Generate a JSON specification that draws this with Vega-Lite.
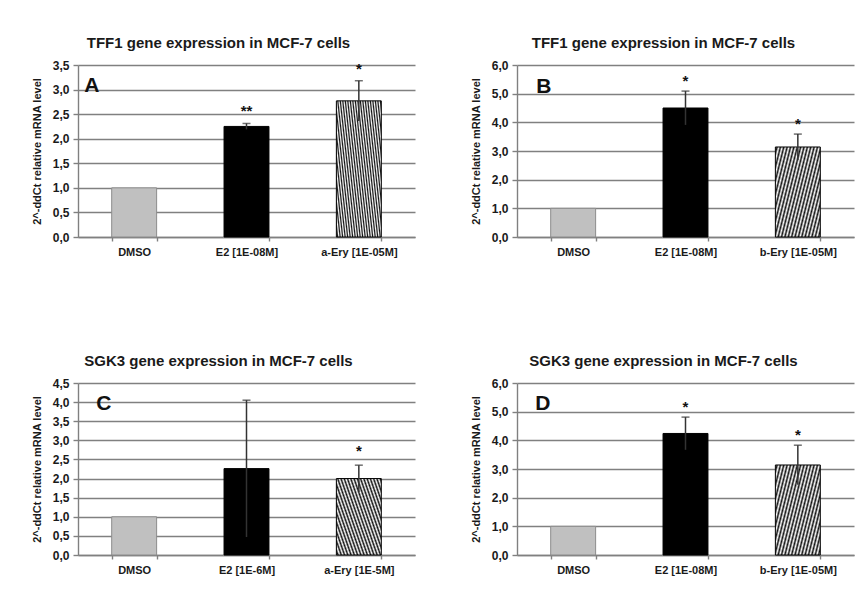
{
"$schema": "https://vega.github.io/schema/vega-lite/v6.json",
"padding": {"left": 31, "top": 36, "right": 5, "bottom": 5},
"background": "white",
"datasets": {"d": [
{"panel": "A", "cond": "DMSO", "grp": "DMSO", "mean": 1.0, "lo": null, "hi": null, "star": null},
{"panel": "A", "cond": "E2 [1E-08M]", "grp": "E2", "mean": 2.25, "lo": 2.19, "hi": 2.31, "star": "**"},
{"panel": "A", "cond": "a-Ery [1E-05M]", "grp": "Ery", "mean": 2.77, "lo": 2.36, "hi": 3.18, "star": "*"},
{"panel": "B", "cond": "DMSO", "grp": "DMSO", "mean": 1.0, "lo": null, "hi": null, "star": null},
{"panel": "B", "cond": "E2 [1E-08M]", "grp": "E2", "mean": 4.5, "lo": 3.91, "hi": 5.09, "star": "*"},
{"panel": "B", "cond": "b-Ery [1E-05M]", "grp": "Ery", "mean": 3.14, "lo": 2.69, "hi": 3.59, "star": "*"},
{"panel": "C", "cond": "DMSO", "grp": "DMSO", "mean": 1.0, "lo": null, "hi": null, "star": null},
{"panel": "C", "cond": "E2 [1E-6M]", "grp": "E2", "mean": 2.26, "lo": 0.47, "hi": 4.05, "star": null},
{"panel": "C", "cond": "a-Ery [1E-5M]", "grp": "Ery", "mean": 2.0, "lo": 1.65, "hi": 2.35, "star": "*"},
{"panel": "D", "cond": "DMSO", "grp": "DMSO", "mean": 1.0, "lo": null, "hi": null, "star": null},
{"panel": "D", "cond": "E2 [1E-08M]", "grp": "E2", "mean": 4.24, "lo": 3.67, "hi": 4.81, "star": "*"},
{"panel": "D", "cond": "b-Ery [1E-05M]", "grp": "Ery", "mean": 3.14, "lo": 2.45, "hi": 3.83, "star": "*"}
]},
"columns": 2,
"spacing": {"row": 146, "column": 102},
"bounds": "flush",
"concat": [
{
 "width": 337, "height": 172,
 "title": {"text": "TFF1 gene expression in MCF-7 cells", "dx": -28},
 "data": {"name": "d"},
 "transform": [{"filter": "datum.panel === 'A'"}],
 "encoding": {"x": {"field": "cond", "type": "nominal", "sort": null, "scale": {"paddingInner": 0.6, "paddingOuter": 0.3}, "axis": {"title": null}}},
 "layer": [
  {"mark": {"type": "bar", "strokeWidth": 1},
   "encoding": {
    "y": {"field": "mean", "type": "quantitative", "scale": {"domain": [0, 3.5]}, "axis": {"values": [0, 0.5, 1, 1.5, 2, 2.5, 3, 3.5], "format": ".1f", "title": "2^-ddCt relative mRNA level"}},
    "fill": {"condition": [{"test": "datum.grp === 'DMSO'", "value": "#c0c0c0"}, {"test": "datum.grp === 'E2'", "value": "#000000"}],
     "value": {"gradient": "linear", "x1": 0, "y1": 1, "x2": 2.01, "y2": 0.335, "stops": [{"offset":0,"color":"#fff"},{"offset":0.0125,"color":"#111"},{"offset":0.025,"color":"#fff"},{"offset":0.0375,"color":"#111"},{"offset":0.05,"color":"#fff"},{"offset":0.0625,"color":"#111"},{"offset":0.075,"color":"#fff"},{"offset":0.0875,"color":"#111"},{"offset":0.1,"color":"#fff"},{"offset":0.1125,"color":"#111"},{"offset":0.125,"color":"#fff"},{"offset":0.1375,"color":"#111"},{"offset":0.15,"color":"#fff"},{"offset":0.1625,"color":"#111"},{"offset":0.175,"color":"#fff"},{"offset":0.1875,"color":"#111"},{"offset":0.2,"color":"#fff"},{"offset":0.2125,"color":"#111"},{"offset":0.225,"color":"#fff"},{"offset":0.2375,"color":"#111"},{"offset":0.25,"color":"#fff"},{"offset":0.2625,"color":"#111"},{"offset":0.275,"color":"#fff"},{"offset":0.2875,"color":"#111"},{"offset":0.3,"color":"#fff"},{"offset":0.3125,"color":"#111"},{"offset":0.325,"color":"#fff"},{"offset":0.3375,"color":"#111"},{"offset":0.35,"color":"#fff"},{"offset":0.3625,"color":"#111"},{"offset":0.375,"color":"#fff"},{"offset":0.3875,"color":"#111"},{"offset":0.4,"color":"#fff"},{"offset":0.4125,"color":"#111"},{"offset":0.425,"color":"#fff"},{"offset":0.4375,"color":"#111"},{"offset":0.45,"color":"#fff"},{"offset":0.4625,"color":"#111"},{"offset":0.475,"color":"#fff"},{"offset":0.4875,"color":"#111"},{"offset":0.5,"color":"#fff"},{"offset":0.5125,"color":"#111"},{"offset":0.525,"color":"#fff"},{"offset":0.5375,"color":"#111"},{"offset":0.55,"color":"#fff"},{"offset":0.5625,"color":"#111"},{"offset":0.575,"color":"#fff"},{"offset":0.5875,"color":"#111"},{"offset":0.6,"color":"#fff"},{"offset":0.6125,"color":"#111"},{"offset":0.625,"color":"#fff"},{"offset":0.6375,"color":"#111"},{"offset":0.65,"color":"#fff"},{"offset":0.6625,"color":"#111"},{"offset":0.675,"color":"#fff"},{"offset":0.6875,"color":"#111"},{"offset":0.7,"color":"#fff"},{"offset":0.7125,"color":"#111"},{"offset":0.725,"color":"#fff"},{"offset":0.7375,"color":"#111"},{"offset":0.75,"color":"#fff"},{"offset":0.7625,"color":"#111"},{"offset":0.775,"color":"#fff"},{"offset":0.7875,"color":"#111"},{"offset":0.8,"color":"#fff"},{"offset":0.8125,"color":"#111"},{"offset":0.825,"color":"#fff"},{"offset":0.8375,"color":"#111"},{"offset":0.85,"color":"#fff"},{"offset":0.8625,"color":"#111"},{"offset":0.875,"color":"#fff"},{"offset":0.8875,"color":"#111"},{"offset":0.9,"color":"#fff"},{"offset":0.9125,"color":"#111"},{"offset":0.925,"color":"#fff"},{"offset":0.9375,"color":"#111"},{"offset":0.95,"color":"#fff"},{"offset":0.9625,"color":"#111"},{"offset":0.975,"color":"#fff"},{"offset":0.9875,"color":"#111"},{"offset":1,"color":"#fff"}]}},
    "stroke": {"condition": {"test": "datum.grp === 'DMSO'", "value": "#8c8c8c"}, "value": "#000000"}
   }},
  {"transform": [{"filter": "datum.hi != null"}], "mark": {"type": "rule", "color": "#333333", "strokeWidth": 1.5},
   "encoding": {"y": {"field": "lo", "type": "quantitative", "axis": {"values": [0, 0.5, 1, 1.5, 2, 2.5, 3, 3.5], "format": ".1f", "title": "2^-ddCt relative mRNA level"}}, "y2": {"field": "hi"}}},
  {"transform": [{"filter": "datum.hi != null"}], "mark": {"type": "tick", "color": "#333333", "size": 8, "thickness": 1.5},
   "encoding": {"y": {"field": "hi", "type": "quantitative", "axis": {"values": [0, 0.5, 1, 1.5, 2, 2.5, 3, 3.5], "format": ".1f", "title": "2^-ddCt relative mRNA level"}}}},
  {"transform": [{"filter": "datum.star != null"}], "mark": {"type": "text", "dy": -12, "fontSize": 15, "fontWeight": "bold", "baseline": "middle", "color": "#111"},
   "encoding": {"y": {"field": "hi", "type": "quantitative", "axis": {"values": [0, 0.5, 1, 1.5, 2, 2.5, 3, 3.5], "format": ".1f", "title": "2^-ddCt relative mRNA level"}}, "text": {"field": "star"}}},
  {"data": {"values": [{"letter": "A"}]}, "mark": {"type": "text", "align": "left", "baseline": "alphabetic", "dx": -50, "dy": 27, "fontSize": 21, "fontWeight": "bold", "color": "#111"},
   "encoding": {"x": {"datum": "DMSO", "type": "nominal"}, "y": {"datum": 3.5, "type": "quantitative", "axis": {"values": [0, 0.5, 1, 1.5, 2, 2.5, 3, 3.5], "format": ".1f", "title": "2^-ddCt relative mRNA level"}}, "text": {"field": "letter"}}}
 ]
},
{
 "width": 337, "height": 172,
 "title": {"text": "TFF1 gene expression in MCF-7 cells", "dx": -22},
 "data": {"name": "d"},
 "transform": [{"filter": "datum.panel === 'B'"}],
 "encoding": {"x": {"field": "cond", "type": "nominal", "sort": null, "scale": {"paddingInner": 0.6, "paddingOuter": 0.3}, "axis": {"title": null}}},
 "layer": [
  {"mark": {"type": "bar", "strokeWidth": 1},
   "encoding": {
    "y": {"field": "mean", "type": "quantitative", "scale": {"domain": [0, 6]}, "axis": {"values": [0, 1, 2, 3, 4, 5, 6], "format": ".1f", "title": "2^-ddCt relative mRNA level"}},
    "fill": {"condition": [{"test": "datum.grp === 'DMSO'", "value": "#c0c0c0"}, {"test": "datum.grp === 'E2'", "value": "#000000"}],
     "value": {"gradient": "linear", "x1": 0, "y1": 0, "x2": 1.5, "y2": 0.75, "stops": [{"offset":0,"color":"#fff"},{"offset":0.02,"color":"#111"},{"offset":0.04,"color":"#fff"},{"offset":0.06,"color":"#111"},{"offset":0.08,"color":"#fff"},{"offset":0.1,"color":"#111"},{"offset":0.12,"color":"#fff"},{"offset":0.14,"color":"#111"},{"offset":0.16,"color":"#fff"},{"offset":0.18,"color":"#111"},{"offset":0.2,"color":"#fff"},{"offset":0.22,"color":"#111"},{"offset":0.24,"color":"#fff"},{"offset":0.26,"color":"#111"},{"offset":0.28,"color":"#fff"},{"offset":0.3,"color":"#111"},{"offset":0.32,"color":"#fff"},{"offset":0.34,"color":"#111"},{"offset":0.36,"color":"#fff"},{"offset":0.38,"color":"#111"},{"offset":0.4,"color":"#fff"},{"offset":0.42,"color":"#111"},{"offset":0.44,"color":"#fff"},{"offset":0.46,"color":"#111"},{"offset":0.48,"color":"#fff"},{"offset":0.5,"color":"#111"},{"offset":0.52,"color":"#fff"},{"offset":0.54,"color":"#111"},{"offset":0.56,"color":"#fff"},{"offset":0.58,"color":"#111"},{"offset":0.6,"color":"#fff"},{"offset":0.62,"color":"#111"},{"offset":0.64,"color":"#fff"},{"offset":0.66,"color":"#111"},{"offset":0.68,"color":"#fff"},{"offset":0.7,"color":"#111"},{"offset":0.72,"color":"#fff"},{"offset":0.74,"color":"#111"},{"offset":0.76,"color":"#fff"},{"offset":0.78,"color":"#111"},{"offset":0.8,"color":"#fff"},{"offset":0.82,"color":"#111"},{"offset":0.84,"color":"#fff"},{"offset":0.86,"color":"#111"},{"offset":0.88,"color":"#fff"},{"offset":0.9,"color":"#111"},{"offset":0.92,"color":"#fff"},{"offset":0.94,"color":"#111"},{"offset":0.96,"color":"#fff"},{"offset":0.98,"color":"#111"},{"offset":1,"color":"#fff"}]}},
    "stroke": {"condition": {"test": "datum.grp === 'DMSO'", "value": "#8c8c8c"}, "value": "#000000"}
   }},
  {"transform": [{"filter": "datum.hi != null"}], "mark": {"type": "rule", "color": "#333333", "strokeWidth": 1.5},
   "encoding": {"y": {"field": "lo", "type": "quantitative", "axis": {"values": [0, 1, 2, 3, 4, 5, 6], "format": ".1f", "title": "2^-ddCt relative mRNA level"}}, "y2": {"field": "hi"}}},
  {"transform": [{"filter": "datum.hi != null"}], "mark": {"type": "tick", "color": "#333333", "size": 8, "thickness": 1.5},
   "encoding": {"y": {"field": "hi", "type": "quantitative", "axis": {"values": [0, 1, 2, 3, 4, 5, 6], "format": ".1f", "title": "2^-ddCt relative mRNA level"}}}},
  {"transform": [{"filter": "datum.star != null"}], "mark": {"type": "text", "dy": -10, "fontSize": 15, "fontWeight": "bold", "baseline": "middle", "color": "#111"},
   "encoding": {"y": {"field": "hi", "type": "quantitative", "axis": {"values": [0, 1, 2, 3, 4, 5, 6], "format": ".1f", "title": "2^-ddCt relative mRNA level"}}, "text": {"field": "star"}}},
  {"data": {"values": [{"letter": "B"}]}, "mark": {"type": "text", "align": "left", "baseline": "alphabetic", "dx": -37, "dy": 28, "fontSize": 21, "fontWeight": "bold", "color": "#111"},
   "encoding": {"x": {"datum": "DMSO", "type": "nominal"}, "y": {"datum": 6, "type": "quantitative", "axis": {"values": [0, 1, 2, 3, 4, 5, 6], "format": ".1f", "title": "2^-ddCt relative mRNA level"}}, "text": {"field": "letter"}}}
 ]
},
{
 "width": 337, "height": 172,
 "title": {"text": "SGK3 gene expression in MCF-7 cells", "dx": -28},
 "data": {"name": "d"},
 "transform": [{"filter": "datum.panel === 'C'"}],
 "encoding": {"x": {"field": "cond", "type": "nominal", "sort": null, "scale": {"paddingInner": 0.6, "paddingOuter": 0.3}, "axis": {"title": null}}},
 "layer": [
  {"mark": {"type": "bar", "strokeWidth": 1},
   "encoding": {
    "y": {"field": "mean", "type": "quantitative", "scale": {"domain": [0, 4.5]}, "axis": {"values": [0, 0.5, 1, 1.5, 2, 2.5, 3, 3.5, 4, 4.5], "format": ".1f", "title": "2^-ddCt relative mRNA level"}},
    "fill": {"condition": [{"test": "datum.grp === 'DMSO'", "value": "#c0c0c0"}, {"test": "datum.grp === 'E2'", "value": "#000000"}],
     "value": {"gradient": "linear", "x1": 0, "y1": 1, "x2": 1.35, "y2": 0.206, "stops": [{"offset":0,"color":"#fff"},{"offset":0.02,"color":"#111"},{"offset":0.04,"color":"#fff"},{"offset":0.06,"color":"#111"},{"offset":0.08,"color":"#fff"},{"offset":0.1,"color":"#111"},{"offset":0.12,"color":"#fff"},{"offset":0.14,"color":"#111"},{"offset":0.16,"color":"#fff"},{"offset":0.18,"color":"#111"},{"offset":0.2,"color":"#fff"},{"offset":0.22,"color":"#111"},{"offset":0.24,"color":"#fff"},{"offset":0.26,"color":"#111"},{"offset":0.28,"color":"#fff"},{"offset":0.3,"color":"#111"},{"offset":0.32,"color":"#fff"},{"offset":0.34,"color":"#111"},{"offset":0.36,"color":"#fff"},{"offset":0.38,"color":"#111"},{"offset":0.4,"color":"#fff"},{"offset":0.42,"color":"#111"},{"offset":0.44,"color":"#fff"},{"offset":0.46,"color":"#111"},{"offset":0.48,"color":"#fff"},{"offset":0.5,"color":"#111"},{"offset":0.52,"color":"#fff"},{"offset":0.54,"color":"#111"},{"offset":0.56,"color":"#fff"},{"offset":0.58,"color":"#111"},{"offset":0.6,"color":"#fff"},{"offset":0.62,"color":"#111"},{"offset":0.64,"color":"#fff"},{"offset":0.66,"color":"#111"},{"offset":0.68,"color":"#fff"},{"offset":0.7,"color":"#111"},{"offset":0.72,"color":"#fff"},{"offset":0.74,"color":"#111"},{"offset":0.76,"color":"#fff"},{"offset":0.78,"color":"#111"},{"offset":0.8,"color":"#fff"},{"offset":0.82,"color":"#111"},{"offset":0.84,"color":"#fff"},{"offset":0.86,"color":"#111"},{"offset":0.88,"color":"#fff"},{"offset":0.9,"color":"#111"},{"offset":0.92,"color":"#fff"},{"offset":0.94,"color":"#111"},{"offset":0.96,"color":"#fff"},{"offset":0.98,"color":"#111"},{"offset":1,"color":"#fff"}]}},
    "stroke": {"condition": {"test": "datum.grp === 'DMSO'", "value": "#8c8c8c"}, "value": "#000000"}
   }},
  {"transform": [{"filter": "datum.hi != null"}], "mark": {"type": "rule", "color": "#333333", "strokeWidth": 1.5},
   "encoding": {"y": {"field": "lo", "type": "quantitative", "axis": {"values": [0, 0.5, 1, 1.5, 2, 2.5, 3, 3.5, 4, 4.5], "format": ".1f", "title": "2^-ddCt relative mRNA level"}}, "y2": {"field": "hi"}}},
  {"transform": [{"filter": "datum.hi != null"}], "mark": {"type": "tick", "color": "#333333", "size": 8, "thickness": 1.5},
   "encoding": {"y": {"field": "hi", "type": "quantitative", "axis": {"values": [0, 0.5, 1, 1.5, 2, 2.5, 3, 3.5, 4, 4.5], "format": ".1f", "title": "2^-ddCt relative mRNA level"}}}},
  {"transform": [{"filter": "datum.star != null"}], "mark": {"type": "text", "dy": -14, "fontSize": 15, "fontWeight": "bold", "baseline": "middle", "color": "#111"},
   "encoding": {"y": {"field": "hi", "type": "quantitative", "axis": {"values": [0, 0.5, 1, 1.5, 2, 2.5, 3, 3.5, 4, 4.5], "format": ".1f", "title": "2^-ddCt relative mRNA level"}}, "text": {"field": "star"}}},
  {"data": {"values": [{"letter": "C"}]}, "mark": {"type": "text", "align": "left", "baseline": "alphabetic", "dx": -38, "dy": 27, "fontSize": 21, "fontWeight": "bold", "color": "#111"},
   "encoding": {"x": {"datum": "DMSO", "type": "nominal"}, "y": {"datum": 4.5, "type": "quantitative", "axis": {"values": [0, 0.5, 1, 1.5, 2, 2.5, 3, 3.5, 4, 4.5], "format": ".1f", "title": "2^-ddCt relative mRNA level"}}, "text": {"field": "letter"}}}
 ]
},
{
 "width": 337, "height": 172,
 "title": {"text": "SGK3 gene expression in MCF-7 cells", "dx": -22},
 "data": {"name": "d"},
 "transform": [{"filter": "datum.panel === 'D'"}],
 "encoding": {"x": {"field": "cond", "type": "nominal", "sort": null, "scale": {"paddingInner": 0.6, "paddingOuter": 0.3}, "axis": {"title": null}}},
 "layer": [
  {"mark": {"type": "bar", "strokeWidth": 1},
   "encoding": {
    "y": {"field": "mean", "type": "quantitative", "scale": {"domain": [0, 6]}, "axis": {"values": [0, 1, 2, 3, 4, 5, 6], "format": ".1f", "title": "2^-ddCt relative mRNA level"}},
    "fill": {"condition": [{"test": "datum.grp === 'DMSO'", "value": "#c0c0c0"}, {"test": "datum.grp === 'E2'", "value": "#000000"}],
     "value": {"gradient": "linear", "x1": 0, "y1": 0, "x2": 1.5, "y2": 0.75, "stops": [{"offset":0,"color":"#fff"},{"offset":0.02,"color":"#111"},{"offset":0.04,"color":"#fff"},{"offset":0.06,"color":"#111"},{"offset":0.08,"color":"#fff"},{"offset":0.1,"color":"#111"},{"offset":0.12,"color":"#fff"},{"offset":0.14,"color":"#111"},{"offset":0.16,"color":"#fff"},{"offset":0.18,"color":"#111"},{"offset":0.2,"color":"#fff"},{"offset":0.22,"color":"#111"},{"offset":0.24,"color":"#fff"},{"offset":0.26,"color":"#111"},{"offset":0.28,"color":"#fff"},{"offset":0.3,"color":"#111"},{"offset":0.32,"color":"#fff"},{"offset":0.34,"color":"#111"},{"offset":0.36,"color":"#fff"},{"offset":0.38,"color":"#111"},{"offset":0.4,"color":"#fff"},{"offset":0.42,"color":"#111"},{"offset":0.44,"color":"#fff"},{"offset":0.46,"color":"#111"},{"offset":0.48,"color":"#fff"},{"offset":0.5,"color":"#111"},{"offset":0.52,"color":"#fff"},{"offset":0.54,"color":"#111"},{"offset":0.56,"color":"#fff"},{"offset":0.58,"color":"#111"},{"offset":0.6,"color":"#fff"},{"offset":0.62,"color":"#111"},{"offset":0.64,"color":"#fff"},{"offset":0.66,"color":"#111"},{"offset":0.68,"color":"#fff"},{"offset":0.7,"color":"#111"},{"offset":0.72,"color":"#fff"},{"offset":0.74,"color":"#111"},{"offset":0.76,"color":"#fff"},{"offset":0.78,"color":"#111"},{"offset":0.8,"color":"#fff"},{"offset":0.82,"color":"#111"},{"offset":0.84,"color":"#fff"},{"offset":0.86,"color":"#111"},{"offset":0.88,"color":"#fff"},{"offset":0.9,"color":"#111"},{"offset":0.92,"color":"#fff"},{"offset":0.94,"color":"#111"},{"offset":0.96,"color":"#fff"},{"offset":0.98,"color":"#111"},{"offset":1,"color":"#fff"}]}},
    "stroke": {"condition": {"test": "datum.grp === 'DMSO'", "value": "#8c8c8c"}, "value": "#000000"}
   }},
  {"transform": [{"filter": "datum.hi != null"}], "mark": {"type": "rule", "color": "#333333", "strokeWidth": 1.5},
   "encoding": {"y": {"field": "lo", "type": "quantitative", "axis": {"values": [0, 1, 2, 3, 4, 5, 6], "format": ".1f", "title": "2^-ddCt relative mRNA level"}}, "y2": {"field": "hi"}}},
  {"transform": [{"filter": "datum.hi != null"}], "mark": {"type": "tick", "color": "#333333", "size": 8, "thickness": 1.5},
   "encoding": {"y": {"field": "hi", "type": "quantitative", "axis": {"values": [0, 1, 2, 3, 4, 5, 6], "format": ".1f", "title": "2^-ddCt relative mRNA level"}}}},
  {"transform": [{"filter": "datum.star != null"}], "mark": {"type": "text", "dy": -10, "fontSize": 15, "fontWeight": "bold", "baseline": "middle", "color": "#111"},
   "encoding": {"y": {"field": "hi", "type": "quantitative", "axis": {"values": [0, 1, 2, 3, 4, 5, 6], "format": ".1f", "title": "2^-ddCt relative mRNA level"}}, "text": {"field": "star"}}},
  {"data": {"values": [{"letter": "D"}]}, "mark": {"type": "text", "align": "left", "baseline": "alphabetic", "dx": -38, "dy": 27, "fontSize": 21, "fontWeight": "bold", "color": "#111"},
   "encoding": {"x": {"datum": "DMSO", "type": "nominal"}, "y": {"datum": 6, "type": "quantitative", "axis": {"values": [0, 1, 2, 3, 4, 5, 6], "format": ".1f", "title": "2^-ddCt relative mRNA level"}}, "text": {"field": "letter"}}}
 ]
}
],
"config": {
 "locale": {"number": {"decimal": ",", "thousands": ".", "grouping": [3], "currency": ["", "€"]}},
 "view": {"stroke": null},
 "font": "Liberation Sans",
 "title": {"fontSize": 15, "fontWeight": "bold", "color": "#1a1a1a", "frame": "group", "anchor": "middle", "offset": 8},
 "axisY": {"grid": true, "gridColor": "#808080", "gridWidth": 1.4, "domainColor": "#808080", "domainWidth": 1.4, "tickColor": "#808080", "tickWidth": 1.4, "tickSize": 5, "labelFontSize": 12, "labelFontWeight": "bold", "labelColor": "#1a1a1a", "labelPadding": 4, "labelOverlap": false, "titleFontSize": 11, "titleFontWeight": "bold", "titleColor": "#1a1a1a", "titlePadding": 10},
 "axisX": {"grid": false, "domainColor": "#808080", "domainWidth": 1.4, "tickColor": "#808080", "tickWidth": 1.4, "tickSize": 4, "tickBand": "extent", "labelAngle": 0, "labelFontSize": 11, "labelFontWeight": "bold", "labelColor": "#1a1a1a", "labelPadding": 5}
}
}
